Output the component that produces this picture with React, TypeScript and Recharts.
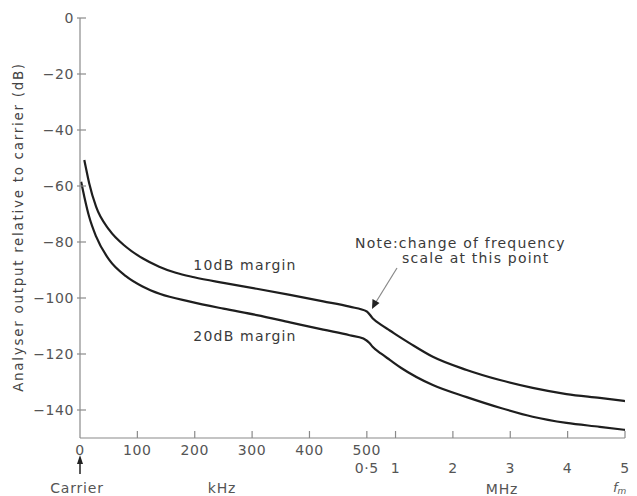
import { LineChart, Line, XAxis, YAxis } from 'recharts';

// frequency scale changes at 500 kHz: 100 kHz per unit below, 1 MHz per unit above
const kHzTicks = [0, 100, 200, 300, 400, 500];
const mHzTicks = [0.5, 1, 2, 3, 4, 5];
const dbTicks = [0, -20, -40, -60, -80, -100, -120, -140];

// 10 dB margin curve
const upperKHz = [7.5, 10, 16, 28, 51, 80, 109, 138, 167, 199, 250, 308, 366, 424, 470];
const upperKHzDb = [-50.7, -53.2, -59, -67.4, -75.7, -81.7, -85.8, -88.8, -91, -92.6, -94.6, -96.7, -98.9, -101.2, -103.1];
const upperMHz = [0.5, 0.6, 0.75, 0.9, 1.07, 1.25, 1.65, 2.24, 2.82, 3.39, 3.98, 4.56, 5.0];
const upperMHzDb = [-104.8, -107.2, -109.6, -111.6, -113.9, -116.2, -121, -125.7, -129.3, -132.1, -134.3, -135.7, -136.8];

// 20 dB margin curve
const lowerKHz = [2, 7.5, 16, 28, 51, 80, 109, 140, 192, 250, 308, 366, 424, 470, 494];
const lowerKHzDb = [-58.5, -63.8, -71, -78, -86.4, -92.2, -95.9, -98.6, -101.3, -103.8, -106.1, -108.7, -111.3, -113.3, -114.5];
const lowerMHz = [0.55, 0.6, 0.75, 0.9, 1.1, 1.65, 2.24, 2.82, 3.39, 3.98, 4.56, 5.0];
const lowerMHzDb = [-116.2, -117.4, -119.9, -122.1, -125, -131.1, -135.4, -139.2, -142.4, -144.6, -146, -147.1];

const kToU = (f: number) => f / 100;
const mToU = (f: number) => 5 + (f - 0.5);

function build(kf: number[], kdb: number[], mf: number[], mdb: number[]) {
  return [
    ...kf.map((f, i) => ({ u: kToU(f), db: kdb[i] })),
    ...mf.map((f, i) => ({ u: mToU(f), db: mdb[i] })),
  ];
}

const upper = build(upperKHz, upperKHzDb, upperMHz, upperMHzDb);
const lower = build(lowerKHz, lowerKHzDb, lowerMHz, lowerMHzDb);

const xTicks = Array.from(new Set([...kHzTicks.map(kToU), ...mHzTicks.map(mToU)])).sort((a, b) => a - b);

const FONT = '"DejaVu Sans", sans-serif';
const AXIS = '#8a8a8a';
const TXT = '#555';

function XTick({ x, y, payload }: any) {
  const v = payload.value;
  const k = kHzTicks.find(f => Math.abs(kToU(f) - v) < 1e-6);
  const m = mHzTicks.find(f => Math.abs(mToU(f) - v) < 1e-6);
  return (
    <g fontFamily={FONT} fontSize={14} fill={TXT} letterSpacing={0.6}>
      {v > 0 && <line x1={x} x2={x} y1={y} y2={y - 7} stroke={AXIS} strokeWidth={1.2} />}
      {k !== undefined && <text x={x} y={y + 17} textAnchor="middle">{k}</text>}
      {m !== undefined && <text x={x} y={y + 35} textAnchor="middle">{String(m).replace('.', '·')}</text>}
      {v === 0 && (
        <g>
          <line x1={x} x2={x} y1={y + 24} y2={y + 36} stroke="#222" strokeWidth={1.5} />
          <path d={`M${x - 3},${y + 26} L${x},${y + 17} L${x + 3},${y + 26} Z`} fill="#222" />
        </g>
      )}
    </g>
  );
}

function YTick({ x, y, payload }: any) {
  const v = payload.value;
  return (
    <g fontFamily={FONT} fontSize={14} fill={TXT} letterSpacing={0.6}>
      <line x1={x - 3} x2={x + 6} y1={y} y2={y} stroke={AXIS} strokeWidth={1.2} />
      <text x={x - 6} y={y + 5} textAnchor="end">{v === 0 ? '0' : `\u2212${Math.abs(v)}`}</text>
    </g>
  );
}

export default function App() {
  return (
    <div style={{ position: 'absolute', left: 0, top: 0, width: 637, height: 496, background: '#fff' }}>
      <LineChart width={637} height={496} margin={{ top: 18, right: 12, left: 0, bottom: 0 }}>
        <XAxis
          type="number"
          dataKey="u"
          domain={[0, 9.5]}
          ticks={xTicks}
          interval={0}
          height={58}
          tickSize={0}
          tickMargin={0}
          tickLine={false}
          axisLine={{ stroke: AXIS, strokeWidth: 1.2 }}
          tick={<XTick />}
          allowDataOverflow
        />
        <YAxis
          type="number"
          domain={[-150, 0]}
          ticks={dbTicks}
          interval={0}
          width={80}
          tickSize={0}
          tickMargin={0}
          tickLine={false}
          axisLine={{ stroke: AXIS, strokeWidth: 1.2 }}
          tick={<YTick />}
          allowDataOverflow
        />
        <Line data={upper} dataKey="db" type="monotone" stroke="#1e1e1e" strokeWidth={2.2} dot={false} isAnimationActive={false} />
        <Line data={lower} dataKey="db" type="monotone" stroke="#1e1e1e" strokeWidth={2.2} dot={false} isAnimationActive={false} />
      </LineChart>

      {/* annotations */}
      <svg width={637} height={496} style={{ position: 'absolute', left: 0, top: 0, pointerEvents: 'none' }}>
        <g fontFamily={FONT} fill="#3a3a3a" fontSize={14} letterSpacing={1.2}>
          <text x={18} y={227} textAnchor="middle" transform="rotate(-90 18 227)" dy={5} fontSize={13.5} fill="#444" letterSpacing={1.7}>
            Analyser output relative to carrier (dB)
          </text>
          <text x={245} y={270} textAnchor="middle">10dB margin</text>
          <text x={245} y={341} textAnchor="middle">20dB margin</text>
          <text x={355} y={248}>Note:change of frequency</text>
          <text x={402} y={263}>scale at this point</text>
          <line x1={397} y1={268} x2={376} y2={302} stroke="#888" strokeWidth={1.2} />
          <path d="M372,309 L372.5,299 L379.5,303 Z" fill="#222" />
          <text x={77} y={493} textAnchor="middle" fill={TXT} letterSpacing={0.8}>Carrier</text>
          <text x={222} y={493} textAnchor="middle" fill={TXT} letterSpacing={0.8}>kHz</text>
          <text x={502} y={494} textAnchor="middle" fill={TXT} letterSpacing={0.8}>MHz</text>
          <text x={613} y={492} fontStyle="italic" fill={TXT} fontSize={13} letterSpacing={0}>f<tspan fontSize={9} dy={2}>m</tspan></text>
        </g>
      </svg>
    </div>
  );
}
